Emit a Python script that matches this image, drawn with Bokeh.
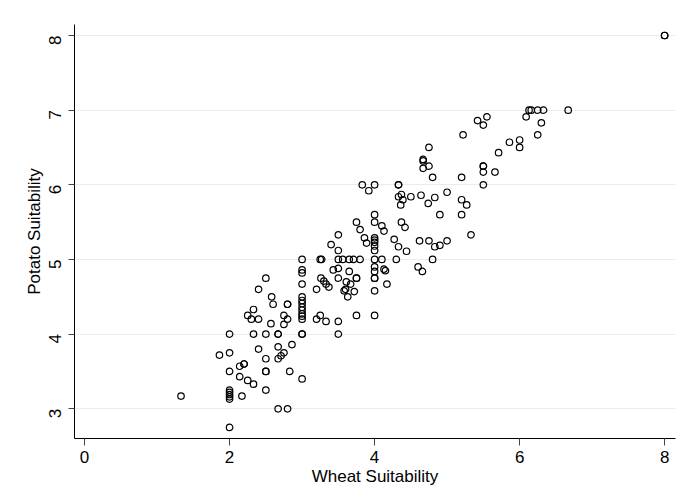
import math
from bokeh.plotting import figure
from bokeh.models import Range1d, FixedTicker
from bokeh.embed import file_html
from bokeh.resources import INLINE

# Data
wheat = [
    1.33, 2.0, 2.0, 2.0, 2.0, 2.0, 2.0, 2.17, 2.5, 2.67, 2.8, 3.0,
    2.0, 2.14, 2.25, 2.33, 2.5, 2.5, 2.83, 1.86, 2.0, 2.14, 2.2, 2.2,
    2.4, 2.5, 2.67, 2.71, 2.75, 2.67, 2.86,
    2.0, 2.33, 2.5, 2.67, 2.67, 3.0, 3.0, 3.5,
    2.25, 2.3, 2.4, 2.33, 2.4, 2.5, 2.57, 2.58, 2.6, 2.75, 2.75, 2.8, 2.8, 2.8,
    3.0, 3.0, 3.0, 3.0, 3.0, 3.0, 3.0, 3.0, 3.0, 3.0, 3.0, 3.0,
    3.2, 3.25, 3.33, 3.2, 3.26, 3.3, 3.33, 3.37,
    3.25, 3.27,
    3.4, 3.43, 3.5, 3.5, 3.5, 3.5, 3.5, 3.5,
    3.56, 3.65, 3.71, 3.8,
    3.58, 3.6, 3.61, 3.63, 3.65, 3.67, 3.72, 3.75, 3.75, 3.75,
    3.75, 3.8, 3.86, 3.89, 3.83, 3.92,
    4.0, 4.0, 4.0, 4.0, 4.0, 4.0, 4.0, 4.0, 4.0, 4.0, 4.0, 4.0, 4.0, 4.0, 4.0,
    4.1, 4.13, 4.1, 4.13, 4.15, 4.17,
    4.27, 4.3, 4.33, 4.44,
    4.33, 4.33, 4.33, 4.37, 4.39, 4.36, 4.5, 4.64, 4.74, 4.83,
    4.37, 4.42,
    4.6, 4.66, 4.8,
    4.62, 4.75, 4.83, 4.9, 5.0,
    4.67, 4.67, 4.67, 4.75, 4.75, 4.8,
    4.9, 5.0,
    5.2, 5.2, 5.2, 5.27, 5.33, 5.22,
    5.42, 5.5, 5.55,
    5.5, 5.5, 5.5, 5.5, 5.66, 5.71, 5.86, 6.0, 6.0,
    6.09, 6.13, 6.16, 6.25, 6.33, 6.3, 6.25, 6.67,
    8.0, 8.0,
]
potato = [
    3.17, 2.75, 3.25, 3.22, 3.19, 3.16, 3.13, 3.17, 3.25, 3.0, 3.0, 3.4,
    3.5, 3.43, 3.38, 3.33, 3.5, 3.5, 3.5, 3.72, 3.75, 3.57, 3.6, 3.6,
    3.8, 3.67, 3.67, 3.71, 3.75, 3.83, 3.86,
    4.0, 4.0, 4.0, 4.0, 4.0, 4.0, 4.0, 4.0,
    4.25, 4.2, 4.2, 4.33, 4.6, 4.75, 4.14, 4.5, 4.4, 4.13, 4.25, 4.4, 4.4, 4.2,
    5.0, 4.86, 4.82, 4.67, 4.5, 4.45, 4.41, 4.36, 4.32, 4.27, 4.24, 4.2,
    4.2, 4.25, 4.17, 4.6, 4.75, 4.71, 4.67, 4.63,
    5.0, 5.0,
    5.2, 4.86, 5.33, 5.12, 5.0, 4.88, 4.75, 4.17,
    5.0, 5.0, 5.0, 5.0,
    4.58, 4.6, 4.7, 4.5, 4.84, 4.67, 4.57, 4.75, 4.75, 4.25,
    5.5, 5.4, 5.29, 5.22, 6.0, 5.92,
    6.0, 5.6, 5.5, 5.29, 5.26, 5.23, 5.18, 5.12, 5.0, 4.9, 4.84, 4.75, 4.75, 4.58, 4.25,
    5.45, 5.38, 5.0, 4.87, 4.85, 4.67,
    5.27, 5.0, 5.17, 5.11,
    6.0, 6.0, 5.84, 5.87, 5.8, 5.73, 5.84, 5.86, 5.75, 5.83,
    5.5, 5.43,
    4.9, 4.84, 5.0,
    5.25, 5.25, 5.17, 5.19, 5.25,
    6.34, 6.32, 6.22, 6.25, 6.5, 6.1,
    5.6, 5.9,
    6.1, 5.8, 5.6, 5.73, 5.33, 6.67,
    6.86, 6.8, 6.91,
    6.25, 6.25, 6.17, 6.0, 6.17, 6.43, 6.57, 6.6, 6.5,
    6.91, 7.0, 7.0, 7.0, 7.0, 6.83, 6.67, 7.0,
    8.0, 8.0,
]
x_ticks = [0, 2, 4, 6, 8]
y_ticks = [3, 4, 5, 6, 7, 8]
x_title = "Wheat Suitability"
y_title = "Potato Suitability"

FONT = "Liberation Sans"

p = figure(
    width=684, height=498,
    output_backend="svg", toolbar_location=None,
    x_range=Range1d(-0.139, 8.15), y_range=Range1d(2.602, 8.147),
    min_border_left=74, min_border_right=9, min_border_top=24, min_border_bottom=60,
    background_fill_color="white", border_fill_color="white",
)
p.outline_line_color = None

p.scatter(wheat, potato, marker="circle", size=6.5,
          fill_color=None, line_color="black", line_width=1.2)

p.xgrid.grid_line_color = None
p.ygrid.grid_line_color = "#e4edef"
p.ygrid.grid_line_width = 1
p.xaxis.ticker = FixedTicker(ticks=x_ticks)
p.yaxis.ticker = FixedTicker(ticks=y_ticks)

for ax in (p.xaxis, p.yaxis):
    ax.axis_line_color = "black"
    ax.axis_line_width = 1
    ax.major_tick_line_color = "#444444"
    ax.major_tick_out = 6
    ax.major_tick_in = 0
    ax.minor_tick_line_color = None
    ax.major_label_text_font = FONT
    ax.major_label_text_font_size = "17px"
    ax.major_label_text_color = "black"
    ax.axis_label_text_font = FONT
    ax.axis_label_text_font_size = "17px"
    ax.axis_label_text_font_style = "normal"
    ax.axis_label_text_color = "black"

p.xaxis.axis_label = x_title
p.yaxis.axis_label = y_title
p.xaxis.major_tick_out = 7
p.xaxis.major_label_standoff = 5
p.xaxis.axis_label_standoff = 1
p.yaxis.major_label_orientation = math.pi / 2
p.yaxis.major_label_standoff = 13
p.yaxis.axis_label_standoff = -3

open("out.html", "w").write(file_html(p, INLINE))
